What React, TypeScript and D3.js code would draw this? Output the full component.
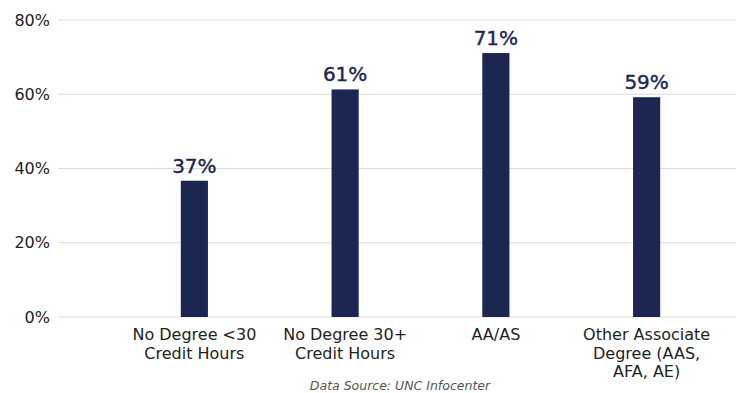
import React from "react";
import * as d3 from "d3";

const categories: string[][] = [
  ["No Degree <30", "Credit Hours"],
  ["No Degree 30+", "Credit Hours"],
  ["AA/AS"],
  ["Other Associate", "Degree (AAS,", "AFA, AE)"],
];
const values: number[] = [0.367, 0.613, 0.711, 0.592];
const valueLabels: string[] = ["37%", "61%", "71%", "59%"];
const yTicks: number[] = [0, 0.2, 0.4, 0.6, 0.8];
const source = "Data Source: UNC Infocenter";

const W = 736;
const H = 393;
const FONT = "'DejaVu Sans', sans-serif";
const NAVY = "#1b2651";

export default function App() {
  const x = d3
    .scaleBand<number>()
    .domain(categories.map((_, i) => i))
    .range([119, 722])
    .paddingInner(0.82)
    .paddingOuter(0.41);
  const y = d3.scaleLinear().domain([0, 0.8]).range([317, 20]);
  const fmt = d3.format(".0%");

  return (
    <svg
      width={W}
      height={H}
      style={{ position: "absolute", left: 0, top: 0, background: "#fff" }}
    >
      {yTicks.map((t) => (
        <g key={t}>
          <line
            x1={58}
            x2={736}
            y1={y(t)}
            y2={y(t)}
            stroke="#d9d9d9"
            strokeWidth={1.2}
          />
          <text
            x={50}
            y={y(t)}
            dy="0.35em"
            textAnchor="end"
            fontFamily={FONT}
            fontSize={16}
            fill="#222"
          >
            {fmt(t)}
          </text>
        </g>
      ))}
      {values.map((v, i) => {
        const bx = x(i)!;
        const bw = x.bandwidth();
        return (
          <g key={i}>
            <rect x={bx} y={y(v)} width={bw} height={y(0) - y(v)} fill={NAVY} />
            <text
              x={bx + bw / 2}
              y={y(v) - 8}
              textAnchor="middle"
              fontFamily={FONT}
              fontSize={20}
              fill={NAVY}
              stroke={NAVY}
              strokeWidth={0.4}
            >
              {valueLabels[i]}
            </text>
            <text
              textAnchor="middle"
              fontFamily={FONT}
              fontSize={16}
              fill="#222"
            >
              {categories[i].map((line, j) => (
                <tspan key={j} x={bx + bw / 2} y={340 + j * 18.5}>
                  {line}
                </tspan>
              ))}
            </text>
          </g>
        );
      })}
      <text
        x={400}
        y={390}
        textAnchor="middle"
        fontFamily={FONT}
        fontSize={12.5}
        fontStyle="italic"
        fill="#555"
      >
        {source}
      </text>
    </svg>
  );
}
